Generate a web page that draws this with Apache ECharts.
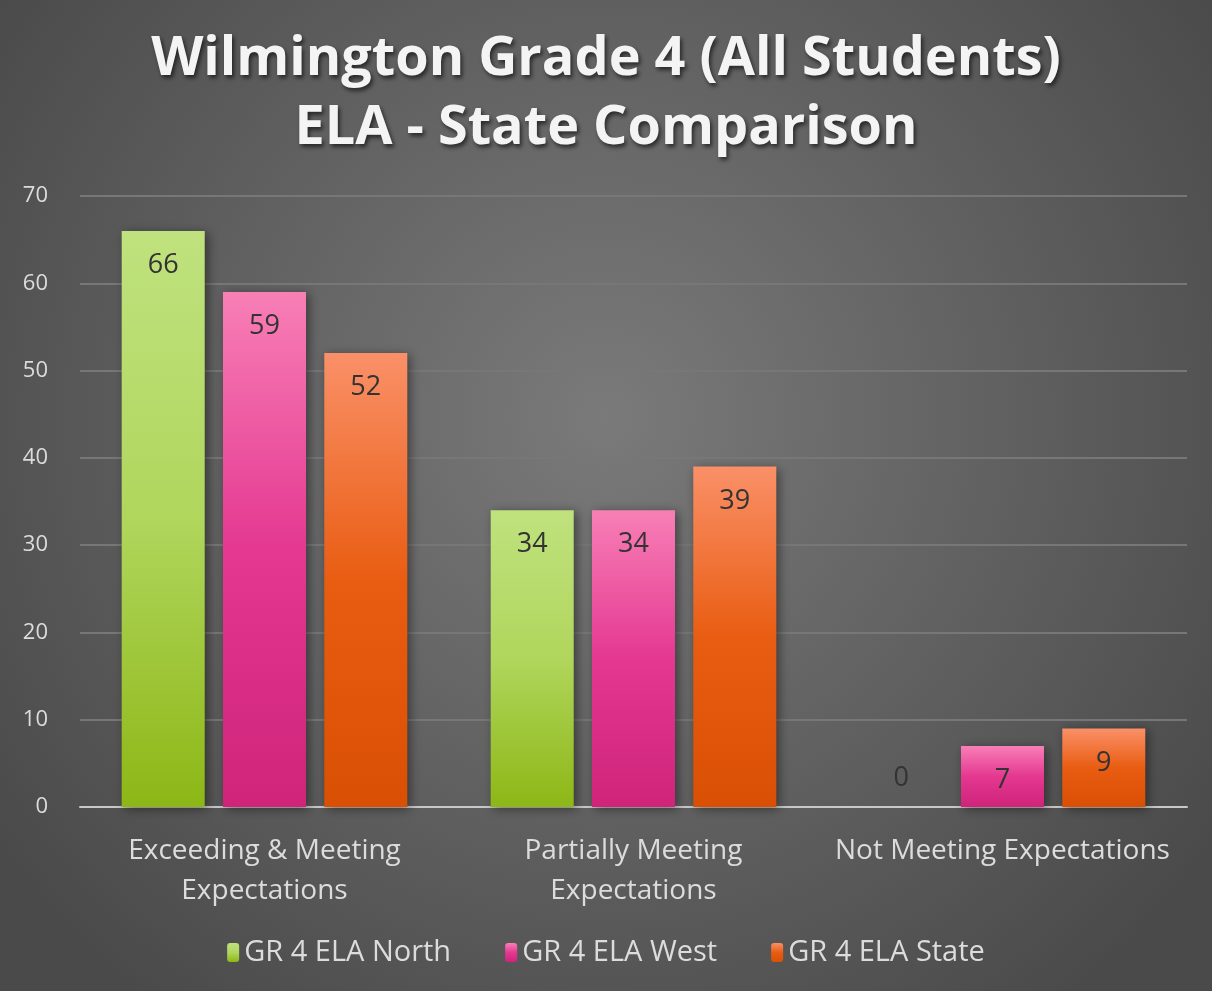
<!DOCTYPE html>
<html>
<head>
<meta charset="utf-8">
<script src="https://cdn.jsdelivr.net/npm/echarts@6/dist/echarts.min.js"></script>
<style>
  html, body { margin: 0; padding: 0; background: #555; }
  #chart { width: 1212px; height: 991px; }
</style>
</head>
<body>
<div id="chart"></div>
<script>
// chart data
var categories = ['Exceeding & Meeting\nExpectations', 'Partially Meeting\nExpectations', 'Not Meeting Expectations'];
var seriesNames = ['GR 4 ELA North', 'GR 4 ELA West', 'GR 4 ELA State'];
var northValues = [66, 34, 0];
var westValues = [59, 34, 7];
var stateValues = [52, 39, 9];
var yTicks = { min: 0, max: 70, interval: 10 };

var gradients = [
  ['#bfe27e', '#b0d65c', '#8db716'],
  ['#f87fb6', '#e43891', '#cf247a'],
  ['#fa9068', '#e95d12', '#d94f03']
];

var font = 'Open Sans';

function grad(c) {
  return new echarts.graphic.LinearGradient(0, 0, 0, 1, [
    { offset: 0, color: c[0] },
    { offset: 0.5, color: c[1] },
    { offset: 1, color: c[2] }
  ]);
}

function makeData(vals) {
  return vals.map(function (v) {
    if (v === 0) {
      return { value: v, label: { position: 'top', distance: 15 } };
    }
    return v;
  });
}

function makeSeries(name, vals, i) {
  return {
    name: name,
    type: 'bar',
    data: makeData(vals),
    barWidth: '22.5%',
    barGap: '22%',
    itemStyle: {
      color: grad(gradients[i]),
      shadowColor: 'rgba(0,0,0,0.45)',
      shadowBlur: 10,
      shadowOffsetX: 3,
      shadowOffsetY: 2
    },
    label: {
      show: true,
      position: 'insideTop',
      distance: 21,
      color: '#333',
      fontFamily: font,
      fontSize: 27
    }
  };
}

var myChart = echarts.init(document.getElementById('chart'));

var option = {
  backgroundColor: {
    type: 'radial', x: 0.5, y: 0.42, r: 0.75,
    colorStops: [
      { offset: 0, color: '#7a7a7a' },
      { offset: 1, color: '#4a4a4a' }
    ]
  },
  animation: false,
  title: {
    text: 'Wilmington Grade 4 (All Students)\nELA - State Comparison',
    left: 'center',
    top: 20,
    textStyle: {
      color: '#f4f4f4',
      fontFamily: font,
      fontWeight: 'bold',
      fontSize: 54,
      lineHeight: 69,
      textShadowColor: 'rgba(0,0,0,0.6)',
      textShadowBlur: 4,
      textShadowOffsetX: 2,
      textShadowOffsetY: 3
    }
  },
  legend: {
    bottom: 19,
    left: 'center',
    itemWidth: 12,
    itemHeight: 19,
    itemGap: 54,
    textStyle: { color: '#dcdcdc', fontFamily: font, fontSize: 29 },
    data: seriesNames
  },
  grid: { left: 80, right: 25, top: 196, bottom: 184 },
  xAxis: {
    type: 'category',
    data: categories,
    axisLine: { lineStyle: { color: '#c8c8c8', width: 2 } },
    axisTick: { show: false },
    axisLabel: {
      interval: 0,
      color: '#dcdcdc',
      fontFamily: font,
      fontSize: 28,
      lineHeight: 40,
      margin: 24
    }
  },
  yAxis: {
    type: 'value',
    min: yTicks.min,
    max: yTicks.max,
    interval: yTicks.interval,
    axisLine: { show: false },
    axisTick: { show: false },
    splitLine: { lineStyle: { color: '#777', width: 2 } },
    axisLabel: {
      color: '#dcdcdc',
      fontFamily: font,
      fontSize: 22,
      margin: 32
    }
  },
  series: [
    makeSeries(seriesNames[0], northValues, 0),
    makeSeries(seriesNames[1], westValues, 1),
    makeSeries(seriesNames[2], stateValues, 2)
  ]
};

myChart.setOption(option);
</script>
</body>
</html>
